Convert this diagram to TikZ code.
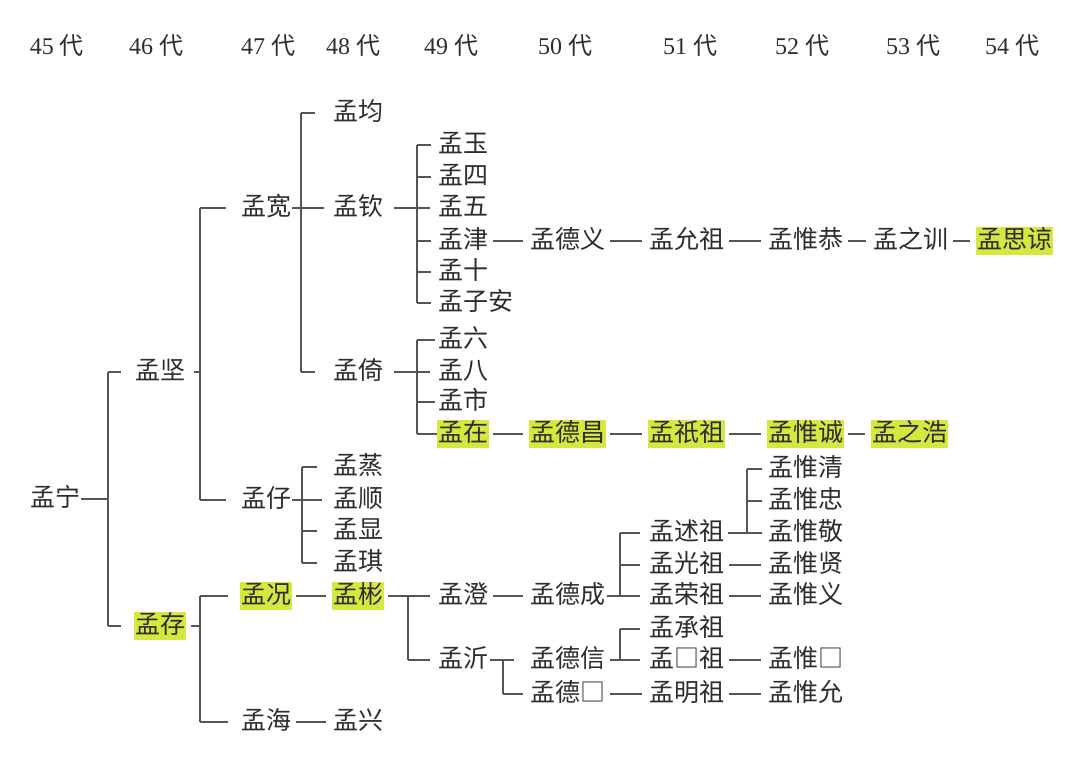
\documentclass[tikz,border=0pt]{standalone}
\usepackage{fontspec}
\setmainfont{Liberation Serif}
\newfontfamily\cjk{Noto Sans CJK SC}
\definecolor{hlc}{RGB}{212,232,64}
\definecolor{txc}{RGB}{45,45,45}
\definecolor{lnc}{RGB}{85,85,85}
\begin{document}
\begin{tikzpicture}[x=1pt,y=-1pt,
  p/.style={anchor=west, inner xsep=1pt, inner ysep=2.5pt, text height=19pt, text depth=4.5pt,
            font=\cjk\fontsize{25}{28}\selectfont, text=txc},
  hl/.style={p, fill=hlc},
  hd/.style={anchor=center, inner sep=0pt, font=\fontsize{24}{28}\selectfont, text=txc},
  ln/.style={draw=lnc, line width=1.5pt},
  conn/.style={ln, shorten <=4pt, shorten >=6pt}]
\useasboundingbox (0,0) rectangle (1080,772);
\fill[white] (0,0) rectangle (1080,772);
% header
\node[hd] (g45) at (57,46) {45 {\cjk 代}};
\node[hd] (g46) at (156,46) {46 {\cjk 代}};
\node[hd] (g47) at (268,46) {47 {\cjk 代}};
\node[hd] (g48) at (353,46) {48 {\cjk 代}};
\node[hd] (g49) at (451,46) {49 {\cjk 代}};
\node[hd] (g50) at (565,46) {50 {\cjk 代}};
\node[hd] (g51) at (690,46) {51 {\cjk 代}};
\node[hd] (g52) at (802,46) {52 {\cjk 代}};
\node[hd] (g53) at (913,46) {53 {\cjk 代}};
\node[hd] (g54) at (1012,46) {54 {\cjk 代}};
% column 45-47
\node[p] (ning) at (29,499) {孟宁};
\node[p] (jian) at (134,372) {孟坚};
\node[hl] (cun) at (134,626) {孟存};
\node[p] (kuan) at (240,208) {孟宽};
\node[p] (zaiB) at (240,500) {孟仔};
\node[hl] (kuang) at (240,596) {孟况};
\node[p] (hai) at (240,722) {孟海};
% column 48
\node[p] (jun) at (332,113) {孟均};
\node[p] (qin) at (332,208) {孟钦};
\node[p] (yiA) at (332,372) {孟倚};
\node[p] (zheng) at (332,467) {孟蒸};
\node[p] (shun) at (332,500) {孟顺};
\node[p] (xian) at (332,531) {孟显};
\node[p] (qi) at (332,563) {孟琪};
\node[hl] (bin) at (332,596) {孟彬};
\node[p] (xing) at (332,722) {孟兴};
% column 49
\node[p] (yu) at (437,145) {孟玉};
\node[p] (si) at (437,177) {孟四};
\node[p] (wu) at (437,208) {孟五};
\node[p] (jin) at (437,241) {孟津};
\node[p] (shiA) at (437,272) {孟十};
\node[p] (zian) at (437,303) {孟子安};
\node[p] (liu) at (437,340) {孟六};
\node[p] (ba) at (437,372) {孟八};
\node[p] (shiB) at (437,402) {孟市};
\node[hl] (zai) at (437,434) {孟在};
\node[p] (cheng) at (437,596) {孟澄};
\node[p] (yiB) at (437,660) {孟沂};
% column 50
\node[p] (deyi) at (529,241) {孟德义};
\node[hl] (dechang) at (529,434) {孟德昌};
\node[p] (decheng) at (529,596) {孟德成};
\node[p] (dexin) at (529,660) {孟德信};
\node[p] (debox) at (529,694) {孟德□};
% column 51
\node[p] (yunzu) at (648,241) {孟允祖};
\node[hl] (qizu) at (648,434) {孟祇祖};
\node[p] (shuzu) at (648,533) {孟述祖};
\node[p] (guangzu) at (648,565) {孟光祖};
\node[p] (rongzu) at (648,596) {孟荣祖};
\node[p] (chengzu) at (648,629) {孟承祖};
\node[p] (boxzu) at (648,660) {孟□祖};
\node[p] (mingzu) at (648,694) {孟明祖};
% column 52
\node[p] (weigong) at (767,241) {孟惟恭};
\node[hl] (weicheng) at (767,434) {孟惟诚};
\node[p] (weiqing) at (767,469) {孟惟清};
\node[p] (weizhong) at (767,501) {孟惟忠};
\node[p] (weijing) at (767,533) {孟惟敬};
\node[p] (weixian) at (767,565) {孟惟贤};
\node[p] (weiyi) at (767,596) {孟惟义};
\node[p] (weibox) at (767,660) {孟惟□};
\node[p] (weiyun) at (767,694) {孟惟允};
% column 53-54
\node[p] (zhixun) at (872,241) {孟之训};
\node[hl] (zhihao) at (871,434) {孟之浩};
\node[hl] (siliang) at (976,241) {孟思谅};
% bracket spines
\coordinate (sNing) at (108,0);
\coordinate (sJian) at (200,0);
\coordinate (sKuan) at (301,0);
\coordinate (sZai) at (302,0);
\coordinate (sQin) at (417,0);
\coordinate (sBin) at (408,0);
\coordinate (sYi) at (503,0);
\coordinate (sDe) at (620,0);
\coordinate (sShu) at (747,0);
% 孟宁
\draw[ln] (ning.east) -- (ning.east -| sNing);
\draw[ln] (sNing |- jian.west) -- (sNing |- cun.west);
\draw[ln] (sNing |- jian.west) -- ([xshift=-13pt]jian.west);
\draw[ln] (sNing |- cun.west) -- ([xshift=-13pt]cun.west);
% 孟坚
\draw[ln] ([xshift=8pt]jian.east) -- (jian.east -| sJian);
\draw[ln] (sJian |- kuan.west) -- (sJian |- zaiB.west);
\draw[ln] (sJian |- kuan.west) -- ([xshift=-14pt]kuan.west);
\draw[ln] (sJian |- zaiB.west) -- ([xshift=-14pt]zaiB.west);
% 孟存
\draw[ln] ([xshift=5pt]cun.east) -- (cun.east -| sJian);
\draw[ln] (sJian |- kuang.west) -- (sJian |- hai.west);
\draw[ln] (sJian |- kuang.west) -- ([xshift=-12pt]kuang.west);
\draw[ln] (sJian |- hai.west) -- ([xshift=-12pt]hai.west);
% 孟宽
\draw[ln] (kuan.east) -- ([xshift=-8pt]qin.west);
\draw[ln] (sKuan |- jun.west) -- (sKuan |- yiA.west);
\draw[ln] (sKuan |- jun.west) -- ([xshift=-17pt]jun.west);
\draw[ln] (sKuan |- yiA.west) -- ([xshift=-17pt]yiA.west);
% 孟仔
\draw[ln] (zaiB.east) -- ([xshift=-10pt]shun.west);
\draw[ln] (sZai |- zheng.west) -- (sZai |- qi.west);
\foreach \c in {zheng,xian,qi} \draw[ln] (sZai |- \c.west) -- ([xshift=-15pt]\c.west);
% 孟钦
\draw[ln] ([xshift=10pt]qin.east) -- ([xshift=-7pt]wu.west);
\draw[ln] (sQin |- yu.west) -- (sQin |- zian.west);
\foreach \c in {yu,si,jin,shiA,zian} \draw[ln] (sQin |- \c.west) -- ([xshift=-6pt]\c.west);
% 孟倚
\draw[ln] ([xshift=10pt]yiA.east) -- ([xshift=-7pt]ba.west);
\draw[ln] (sQin |- liu.west) -- (sQin |- zai.west);
\foreach \c in {liu,shiB} \draw[ln] (sQin |- \c.west) -- ([xshift=-2pt]\c.west);
\draw[ln] (sQin |- zai.west) -- (zai.west);
% 孟彬
\draw[ln] ([xshift=4pt]bin.east) -- ([xshift=-7pt]cheng.west);
\draw[ln] (sBin |- bin.east) -- (sBin |- yiB.west);
\draw[ln] (sBin |- yiB.west) -- ([xshift=-7pt]yiB.west);
% 孟沂
\draw[ln] ([xshift=1pt]yiB.east) -- ([xshift=-15pt]dexin.west);
\draw[ln] (sYi |- yiB.east) -- (sYi |- debox.west);
\draw[ln] (sYi |- debox.west) -- ([xshift=-6pt]debox.west);
% 孟德成
\draw[ln] ([xshift=1pt]decheng.east) -- ([xshift=-8pt]rongzu.west);
\draw[ln] (sDe |- shuzu.west) -- (sDe |- rongzu.west);
\foreach \c in {shuzu,guangzu} \draw[ln] (sDe |- \c.west) -- ([xshift=-8pt]\c.west);
% 孟德信
\draw[ln] ([xshift=4pt]dexin.east) -- ([xshift=-8pt]boxzu.west);
\draw[ln] (sDe |- chengzu.west) -- (sDe |- boxzu.west);
\draw[ln] (sDe |- chengzu.west) -- ([xshift=-8pt]chengzu.west);
% 孟述祖
\draw[ln] ([xshift=3pt]shuzu.east) -- ([xshift=-5pt]weijing.west);
\draw[ln] (sShu |- weiqing.west) -- (sShu |- weijing.west);
\foreach \c in {weiqing,weizhong} \draw[ln] (sShu |- \c.west) -- ([xshift=-5pt]\c.west);
% straight links
\draw[conn] (kuang) -- (bin);
\draw[conn] (hai) -- (xing);
\draw[conn] (jin) -- (deyi);
\draw[conn] (deyi) -- (yunzu);
\draw[conn] (yunzu) -- (weigong);
\draw[conn] (weigong) -- (zhixun);
\draw[conn] (zhixun) -- (siliang);
\draw[conn] (zai) -- (dechang);
\draw[conn] (dechang) -- (qizu);
\draw[conn] (qizu) -- (weicheng);
\draw[conn] (weicheng) -- (zhihao);
\draw[conn] (cheng) -- (decheng);
\draw[conn] (guangzu) -- (weixian);
\draw[conn] (rongzu) -- (weiyi);
\draw[conn] (boxzu) -- (weibox);
\draw[conn] (debox) -- (mingzu);
\draw[conn] (mingzu) -- (weiyun);
\end{tikzpicture}
\end{document}
